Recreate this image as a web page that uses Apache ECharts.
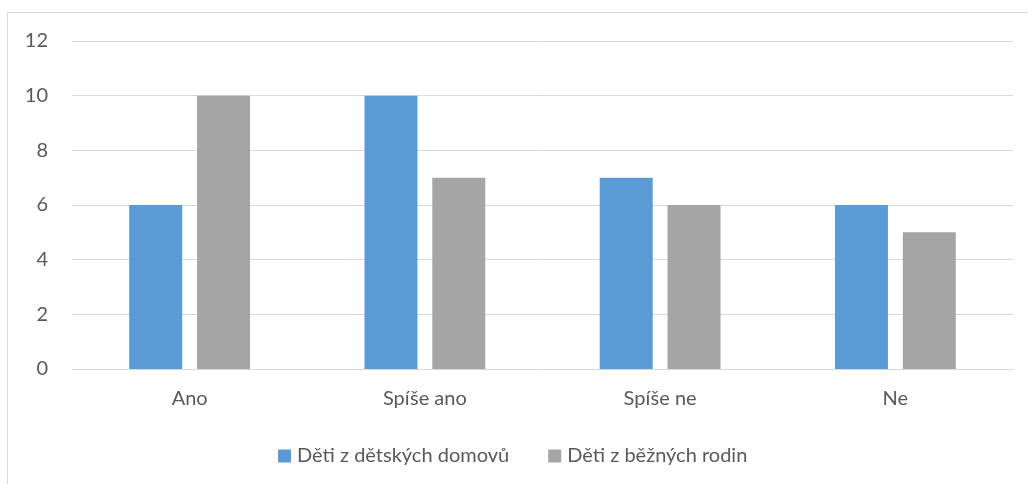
<!DOCTYPE html>
<html>
<head>
<meta charset="utf-8">
<script src="https://cdn.jsdelivr.net/npm/echarts@6/dist/echarts.min.js"></script>
<style>
  html, body { margin: 0; padding: 0; background: #fff; }
  #wrap { position: relative; width: 1028px; height: 484px; overflow: hidden; }
  #frame { position: absolute; left: 7px; top: 12px; width: 1100px; height: 600px; border: 1px solid #D9D9D9; box-sizing: border-box; }
  #chart { position: absolute; left: 0; top: 0; width: 1028px; height: 484px; }
</style>
</head>
<body>
<div id="wrap">
  <div id="frame"></div>
  <div id="chart"></div>
</div>
<script>
// kategorie a hodnoty
const categories = ['Ano', 'Spíše ano', 'Spíše ne', 'Ne'];
const domovy = [6, 10, 7, 6];
const rodiny = [10, 7, 6, 5];
const seriesNames = ['Děti z dětských domovů', 'Děti z běžných rodin'];

const textColor = '#595959';
const font = 'Lato, "Open Sans", sans-serif';

const chart = echarts.init(document.getElementById('chart'));
chart.setOption({
  animation: false,
  textStyle: { fontFamily: font, color: textColor },
  grid: { left: 72, right: 15, top: 41, bottom: 115, containLabel: false },
  legend: {
    data: seriesNames,
    left: 273,
    top: 441,
    itemWidth: 13,
    itemHeight: 13,
    itemGap: 39,
    icon: 'rect',
    textStyle: { fontSize: 20, color: textColor, fontFamily: font, padding: [0, 0, 0, 1] }
  },
  xAxis: {
    type: 'category',
    data: categories,
    axisLine: { lineStyle: { color: '#D9D9D9', width: 1 } },
    axisTick: { show: false },
    axisLabel: { fontSize: 20, color: textColor, margin: 20 }
  },
  yAxis: {
    type: 'value',
    min: 0,
    max: 12,
    interval: 2,
    axisLine: { show: false },
    axisTick: { show: false },
    axisLabel: { fontSize: 20, color: textColor, margin: 24 },
    splitLine: { lineStyle: { color: '#D9D9D9', width: 1 } }
  },
  series: [
    {
      name: seriesNames[0],
      type: 'bar',
      data: domovy,
      barWidth: 53,
      barGap: '28%',
      itemStyle: { color: '#5B9BD5' }
    },
    {
      name: seriesNames[1],
      type: 'bar',
      data: rodiny,
      barWidth: 53,
      barGap: '28%',
      itemStyle: { color: '#A5A5A5' }
    }
  ]
});
</script>
</body>
</html>
